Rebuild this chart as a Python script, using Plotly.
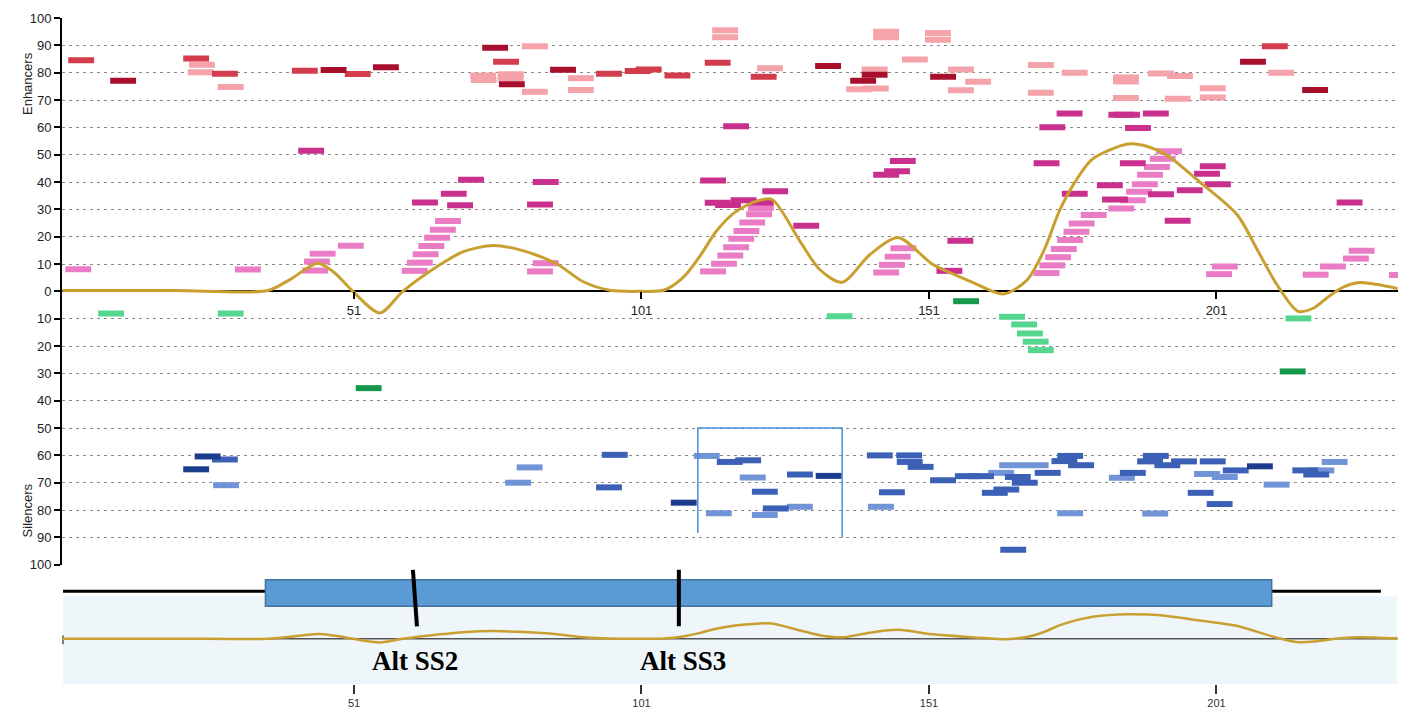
import plotly.graph_objects as go

# ---------------- data (sequence position of dash start, score) ----------------
DASH = 4.5  # dash length in nucleotides

dark_red_pos = [8.6, 45.2, 54.3, 73.3, 76.2, 85.1, 131.2, 137.3, 139.3, 151.2, 205.1, 215.9]
dark_red_val = [77, 81, 82, 89.1, 75.8, 81.1, 82.4, 77, 79.2, 78.5, 84, 73.7]

red_pos = [1.3, 21.3, 26.3, 40.2, 49.4, 75.2, 93.1, 98.1, 100, 105, 112, 120, 208.9]
red_val = [84.5, 85.2, 79.6, 80.7, 79.5, 84, 79.6, 80.6, 81.2, 79, 83.6, 78.5, 89.7]

salmon_pos = [22.3, 22.1, 27.3, 71.2, 71.3, 76, 76, 80.2, 80.2, 88.2, 88.2, 113.3, 113.3,
              121.1, 141.3, 141.3, 139.3, 136.6, 139.5, 150.3, 150.3, 146.3, 154.3, 157.3,
              154.3, 168.2, 168.2, 174.1, 183, 183, 189.1, 192.4, 183, 192, 198.1, 198.1, 210]
salmon_val = [82.9, 80.2, 74.8, 79, 77.3, 79.4, 77.9, 89.7, 73, 78, 73.7, 95.5, 93,
              81.6, 95, 93, 81.2, 73.9, 74.2, 94.5, 92, 84.8, 81.2, 76.7,
              73.6, 82.8, 72.7, 80, 78.2, 76.8, 79.7, 78.8, 70.7, 70.5, 74.3, 70.9, 80]

magenta_pos = [41.3, 69.1, 66.1, 61.1, 67.2, 82.1, 81.1, 111.2, 115.2, 122, 112, 113.8, 116.5,
               119.5, 127.4, 144.2, 143.2, 141.3, 154.2, 152.3, 170.2, 169.2, 173.2, 182.2,
               183.2, 188.2, 185.1, 184.2, 180.2, 174.1, 181.1, 189.1, 194.1, 197.1, 198.1,
               199, 192, 221.9]
magenta_val = [51.4, 40.8, 35.7, 32.5, 31.5, 40, 31.8, 40.6, 60.4, 36.6, 32.4, 31.6, 33.3,
               32.5, 24, 47.7, 43.9, 42.7, 18.5, 7.5, 60, 46.9, 65.1, 64.6,
               64.6, 65.1, 59.8, 46.9, 38.8, 35.7, 33.6, 35.5, 37, 43, 45.8,
               39.2, 25.8, 32.5]

pink_pos = [0.8, 30.3, 48.2, 43.3, 42.3, 42, 65.1, 64.2, 63.2, 62.2, 61.2, 60.2, 59.3, 82.1, 81.1,
            111.2, 119.5, 119.2, 118, 117, 116.1, 115.2, 114.2, 113.1, 144.3, 143.3, 142.3, 141.3,
            190.5, 189.4, 188.4, 187.2, 186.3, 185.3, 184.2, 182.2, 177.4, 175.3, 174.4, 173.3,
            172.2, 171.2, 170.2, 169.2, 200.2, 199.2, 224, 223, 219, 216, 231]
pink_val = [8.1, 8, 16.7, 13.8, 10.9, 7.6, 25.7, 22.5, 19.6, 16.6, 13.6, 10.5, 7.5, 10.3, 7.3,
            7.3, 30.5, 28.2, 25.2, 22.1, 19.2, 16.1, 13.1, 10.1, 15.8, 12.7, 9.7, 6.9,
            51.3, 48.5, 45.5, 42.7, 39.2, 36.4, 33.3, 30.3, 27.9, 24.8, 21.8, 18.8,
            15.5, 12.5, 9.5, 6.7, 9.1, 6.3, 14.9, 12, 9.1, 6.1, 6]

green_light_pos = [6.5, 27.3, 133.2, 163.2, 165.3, 166.3, 167.3, 168.2, 213]
green_light_val = [8.1, 8.1, 9.1, 9.3, 12.1, 15.4, 18.4, 21.5, 9.9]

green_dark_pos = [51.3, 155.2, 212]
green_dark_val = [35.4, 3.6, 29.3]

blue_dark_pos = [23.3, 21.3, 106.1, 131.3, 206.3]
blue_dark_val = [60.4, 65.1, 77.3, 67.5, 64]

blue_mid_pos = [26.3, 94.1, 93.1, 114.1, 117.3, 120.2, 122.1, 126.3, 140.2, 145.3, 145.4, 147.3,
                142.3, 151.2, 155.5, 157.8, 164.2, 165.4, 169.4, 160.2, 162.2, 173.3, 172.3,
                175.2, 163.4, 184.2, 188.2, 187.2, 190.2, 193.1, 198.1, 202.1, 196, 199.3,
                214.2, 216.1]
blue_mid_val = [61.5, 59.8, 71.7, 62.4, 61.8, 73.3, 79.4, 67, 60, 60, 62.4, 64.2,
                73.5, 69.1, 67.6, 67.6, 67.9, 70, 66.4, 73.7, 72.5, 60.2, 62.1,
                63.6, 94.5, 66.4, 60.2, 62.2, 63.6, 62.2, 62.2, 65.5, 73.7, 77.8,
                65.5, 67]

blue_light_pos = [26.5, 79.3, 77.3, 110.1, 118.1, 126.3, 120.2, 112.2, 140.4, 161.3, 163.2, 167.3,
                  173.3, 182.3, 197.1, 200.2, 188.1, 209.2, 217, 219.3]
blue_light_val = [70.9, 64.4, 70, 60.2, 68.1, 78.8, 81.8, 81.2, 78.8, 66.4, 63.6, 63.6,
                  81.2, 68.2, 66.8, 67.9, 81.3, 70.7, 65.5, 62.4]

# smoothed score curve (knots)
curve_pos = [0.3, 20, 36, 40, 44.7, 47.5, 50.8, 55.5, 59.5, 66, 70, 75.2, 80.5, 86.3, 90.8, 95.5,
             100.7, 105, 108.2, 111.2, 114, 117.3, 121, 123.7, 128.6, 132, 135.9, 140.7, 145.6,
             151.7, 158.3, 163.9, 168, 171, 173.8, 177, 179.5, 185.6, 189, 192.4, 198.1, 204.6,
             208, 211.5, 215.2, 218, 220.2, 223, 225.9, 229, 232.5]
curve_val = [0.3, 0.3, 0.3, 4.5, 10.3, 7, 0, -7.9, 0, 9.8, 14.5, 16.8, 14.8, 10, 3.6, 0.4,
             0, 0.5, 5, 13, 22, 29, 33, 33.6, 18.2, 8, 3.3, 13.4, 19.7,
             9.8, 3.6, -1, 4, 15, 30, 42, 48.5, 53.9, 53, 49.8, 40, 28,
             15.6, 2.5, -7.3, -6, -2.4, 1.5, 3.2, 2.5, 1]

# highlighted region of the silencer panel (positions / scores)
box_pos = [110.8, 110.8, 135.9, 135.9]
box_val = [-88.4, -50, -50, -90]

ticks_pos = [51, 101, 151, 201]
y_ticks = list(range(-100, 101, 10))
y_labels = [str(abs(v)) for v in y_ticks]

alt_sites = [61.6, 107.5]
alt_labels = ["Alt SS2", "Alt SS3"]
exon_span = [35.6, 210.6]

# ---------------- figure ----------------
X_RANGE = [0.217, 232.57]
TOP_DOM = [0.1791, 1.0]
BOT_DOM = [0.0, 0.176]
Y2_RANGE = [-98.9, 157.6]


def segs(starts, vals, sign=1):
    xs, ys = [], []
    for s, v in zip(starts, vals):
        xs += [s, s + DASH, None]
        ys += [sign * v, sign * v, None]
    return xs, ys


fig = go.Figure()

groups = [
    (salmon_pos, salmon_val, 1, "#f3a3a9"),
    (red_pos, red_val, 1, "#d23c4c"),
    (dark_red_pos, dark_red_val, 1, "#a80f2c"),
    (pink_pos, pink_val, 1, "#ea7cc6"),
    (magenta_pos, magenta_val, 1, "#c92f8c"),
    (green_light_pos, green_light_val, -1, "#55d68e"),
    (green_dark_pos, green_dark_val, -1, "#17994b"),
    (blue_light_pos, blue_light_val, -1, "#7094d6"),
    (blue_mid_pos, blue_mid_val, -1, "#3b60b6"),
    (blue_dark_pos, blue_dark_val, -1, "#1b3c8c"),
]
for pos, val, sign, col in groups:
    xs, ys = segs(pos, val, sign)
    fig.add_trace(go.Scatter(x=xs, y=ys, mode="lines", line=dict(color=col, width=6),
                             hoverinfo="skip", showlegend=False, xaxis="x", yaxis="y"))

fig.add_trace(go.Scatter(x=box_pos, y=box_val, mode="lines",
                         line=dict(color="#4a8fde", width=1.5), showlegend=False,
                         xaxis="x", yaxis="y"))

fig.add_trace(go.Scatter(x=curve_pos, y=curve_val, mode="lines",
                         line=dict(color="#c9a030", width=3, shape="spline", smoothing=0.8),
                         showlegend=False, xaxis="x", yaxis="y"))

# lower overview panel
fig.add_trace(go.Scatter(x=curve_pos, y=curve_val, mode="lines",
                         line=dict(color="#c9a030", width=2.5, shape="spline", smoothing=0.8),
                         showlegend=False, xaxis="x2", yaxis="y2"))

shapes = [
    dict(type="rect", xref="x2", yref="y2", x0=0.39, x1=232.4, y0=-98.9, y1=92.4,
         fillcolor="#eef6f9", line=dict(width=0), layer="below"),
    dict(type="line", xref="x2", yref="y2", x0=0.39, x1=232.5, y0=0, y1=0,
         line=dict(color="#555555", width=1.5), layer="below"),
    dict(type="line", xref="x2", yref="y2", x0=0.39, x1=0.39, y0=-12, y1=7,
         line=dict(color="#555555", width=1.5), layer="below"),
    dict(type="line", xref="x2", yref="y2", x0=0.39, x1=229.6, y0=103.9, y1=103.9,
         line=dict(color="black", width=3)),
    dict(type="rect", xref="x2", yref="y2", x0=exon_span[0], x1=exon_span[1], y0=71.3, y1=129.3,
         fillcolor="#5b9bd5", line=dict(color="#41719c", width=1.5)),
    dict(type="line", xref="x2", yref="y2", x0=alt_sites[0] - 0.35, x1=alt_sites[0] + 0.35,
         y0=151, y1=27.2, line=dict(color="black", width=4)),
    dict(type="line", xref="x2", yref="y2", x0=alt_sites[1], x1=alt_sites[1],
         y0=151, y1=27.2, line=dict(color="black", width=4)),
]

annotations = [
    dict(xref="x2", yref="y2", x=alt_sites[0], y=-47.8, text="<b>" + alt_labels[0] + "</b>",
         showarrow=False, font=dict(family="Liberation Serif", size=27, color="black")),
    dict(xref="x2", yref="y2", x=alt_sites[1] + 0.8, y=-47.8, text="<b>" + alt_labels[1] + "</b>",
         showarrow=False, font=dict(family="Liberation Serif", size=27, color="black")),
    dict(xref="paper", yref="paper", x=-0.0329, y=0.952, text="Enhancers", textangle=-90,
         showarrow=False, font=dict(size=13, color="#222")),
    dict(xref="paper", yref="paper", x=-0.0329, y=0.2164, text="Silencers", textangle=-90,
         showarrow=False, font=dict(size=13, color="#222")),
    dict(xref="x", yref="y", x=232.6, y=4, text="P", xanchor="right", showarrow=False,
         font=dict(size=12, color="#222")),
]

fig.update_layout(
    width=1409, height=720,
    margin=dict(l=62, r=11, t=15, b=35),
    paper_bgcolor="white", plot_bgcolor="white",
    font=dict(family="Liberation Sans, Arial, sans-serif", color="#222"),
    showlegend=False,
    shapes=shapes, annotations=annotations,
    xaxis=dict(range=X_RANGE, domain=[0, 1], anchor="free",
               position=(TOP_DOM[0] + TOP_DOM[1]) / 2,
               tickvals=ticks_pos, ticks="outside", ticklen=7, tickwidth=2, tickcolor="black",
               tickfont=dict(size=13, color="#222"), showgrid=False, showline=False,
               zeroline=False),
    yaxis=dict(domain=TOP_DOM, range=[-100, 100], anchor="x", tickvals=y_ticks, ticktext=y_labels,
               ticks="outside", ticklen=6, tickwidth=2, tickcolor="black",
               tickfont=dict(size=13, color="#222"),
               showline=True, linecolor="black", linewidth=2,
               showgrid=True, gridcolor="#8a8a8a", gridwidth=1, griddash="3px,4px",
               zeroline=True, zerolinecolor="black", zerolinewidth=2),
    xaxis2=dict(range=X_RANGE, domain=[0, 1], anchor="y2", tickvals=ticks_pos,
                ticks="outside", ticklen=9, tickwidth=2, tickcolor="#333",
                tickfont=dict(size=11, color="#333"), showgrid=False, showline=False,
                zeroline=False),
    yaxis2=dict(domain=BOT_DOM, range=Y2_RANGE, anchor="x2", visible=False,
                showgrid=False, zeroline=False),
)

fig.write_html("out.html")
